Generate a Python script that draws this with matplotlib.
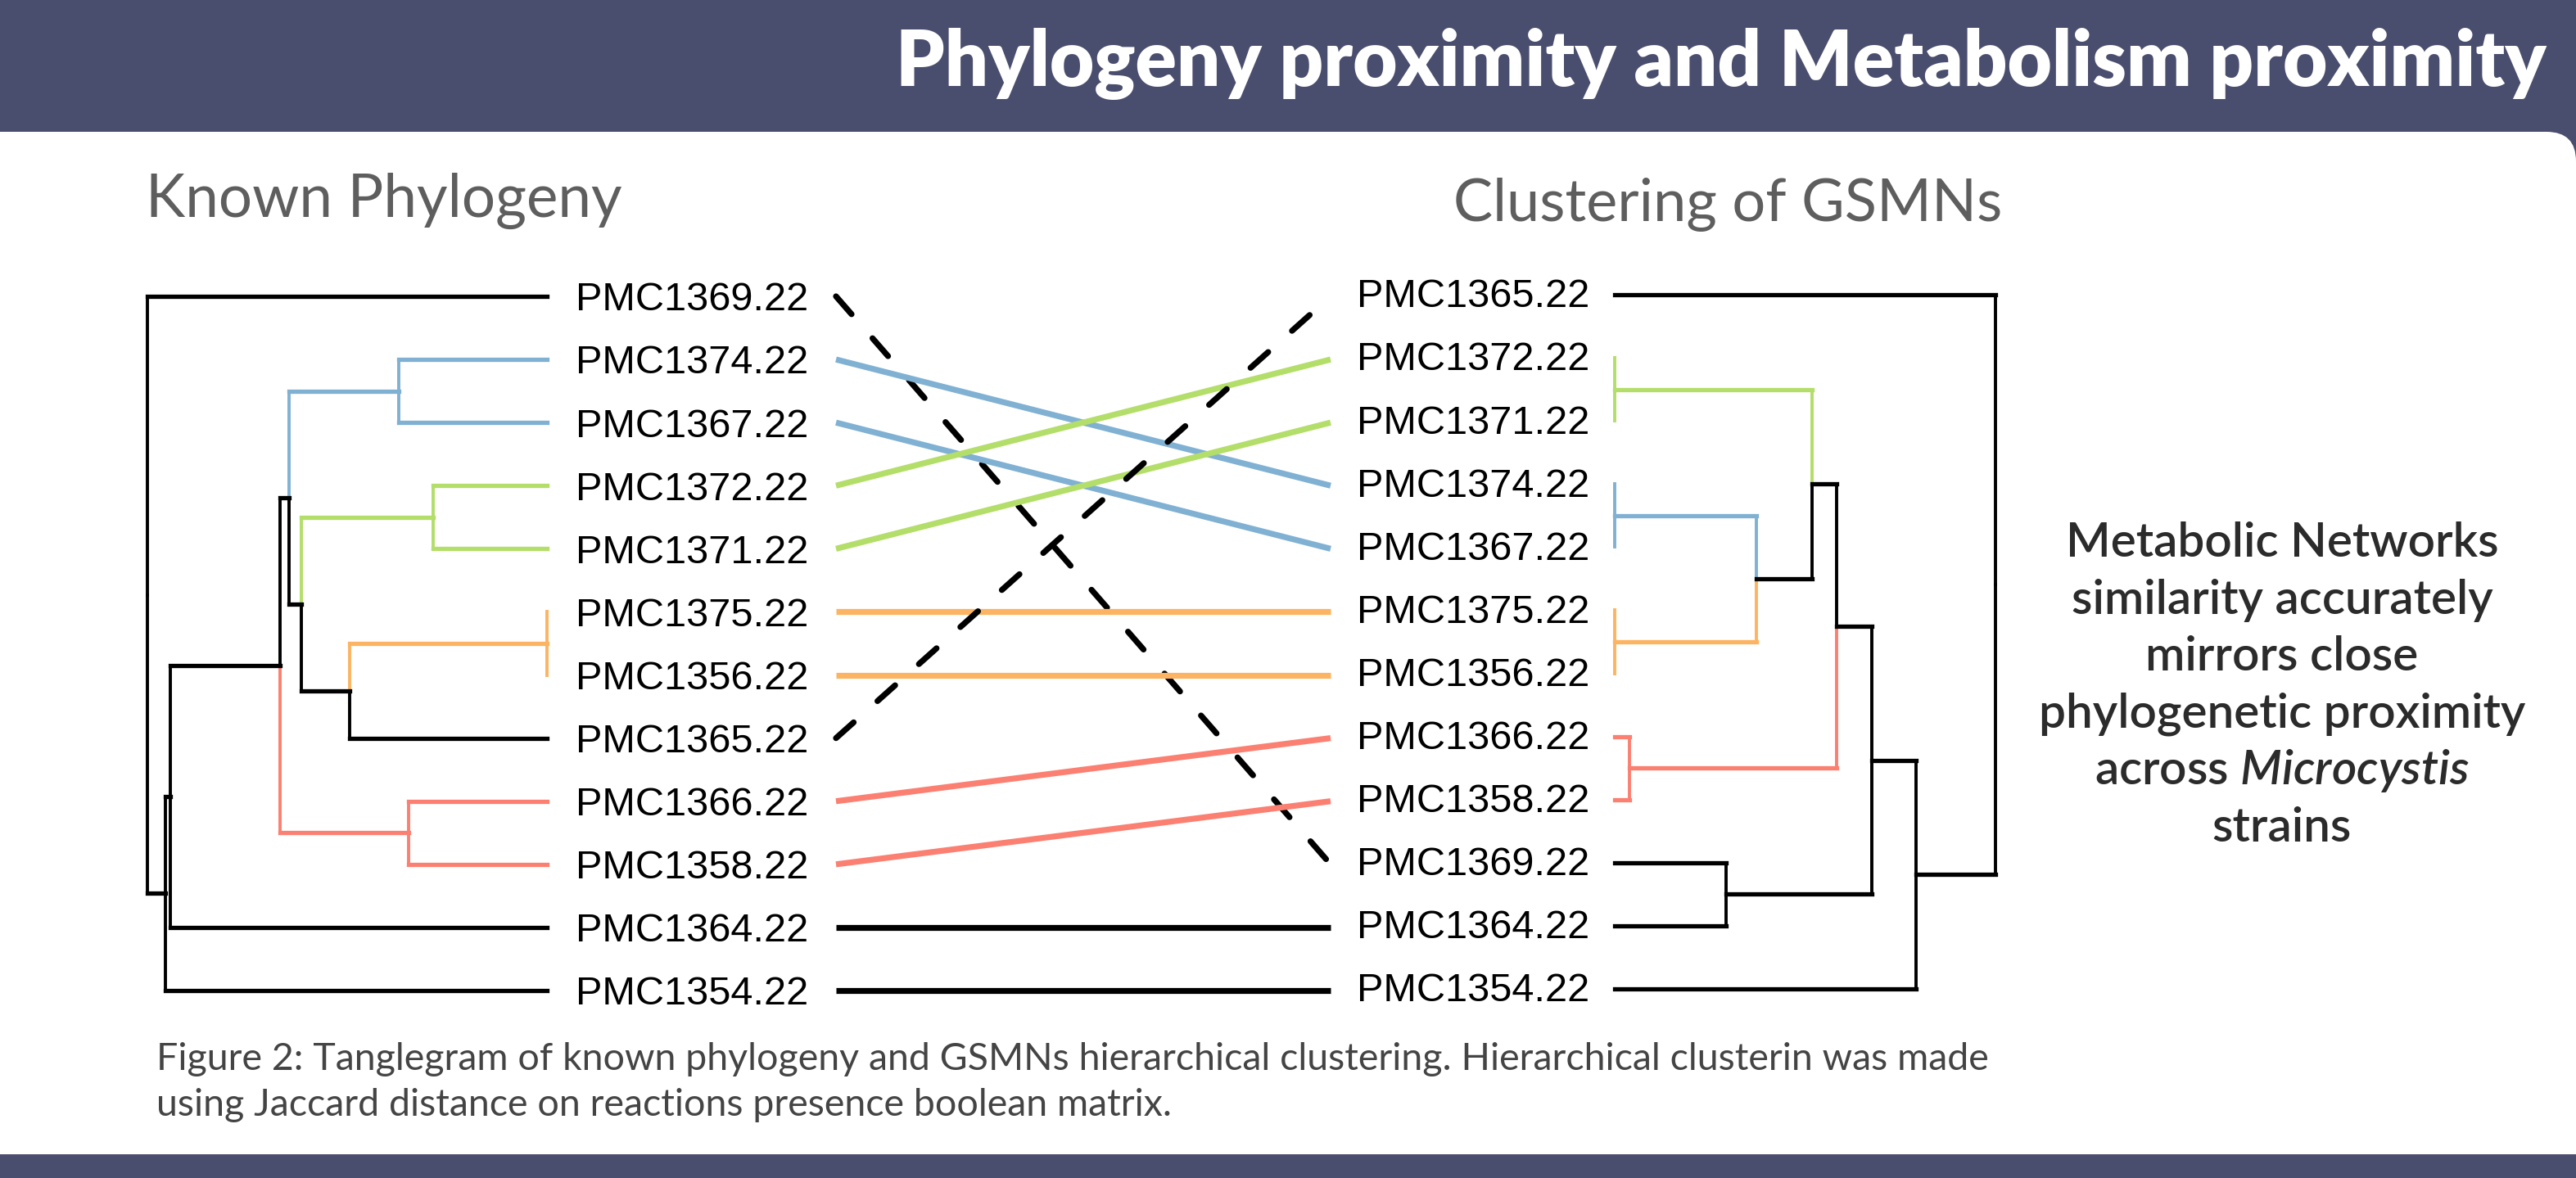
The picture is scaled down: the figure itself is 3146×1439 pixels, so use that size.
import matplotlib
matplotlib.use("Agg")
from matplotlib import pyplot as plt
from matplotlib import transforms
from matplotlib.path import Path
from matplotlib.patches import PathPatch


W, H = 3146, 1439
DPI = 100

# leaves, top to bottom, as they are drawn in each tree
left_leaves = ["PMC1369.22", "PMC1374.22", "PMC1367.22", "PMC1372.22", "PMC1371.22", "PMC1375.22",
               "PMC1356.22", "PMC1365.22", "PMC1366.22", "PMC1358.22", "PMC1364.22", "PMC1354.22"]
right_leaves = ["PMC1365.22", "PMC1372.22", "PMC1371.22", "PMC1374.22", "PMC1367.22", "PMC1375.22",
                "PMC1356.22", "PMC1366.22", "PMC1358.22", "PMC1369.22", "PMC1364.22", "PMC1354.22"]

# merges: (child a, child b, height); ids < 12 are leaves, 12+k is the k-th merge
left_merges = [(5, 6, 0.0), (3, 4, 0.285), (8, 9, 0.346), (1, 2, 0.371), (12, 7, 0.494),
               (13, 16, 0.615), (15, 17, 0.645), (18, 14, 0.668), (19, 10, 0.943),
               (20, 11, 0.955), (0, 21, 1.0)]
right_merges = [(1, 2, 0.0), (3, 4, 0.0), (5, 6, 0.0), (7, 8, 0.039), (9, 10, 0.292),
                (13, 14, 0.372), (12, 17, 0.518), (18, 15, 0.583), (19, 16, 0.675),
                (20, 11, 0.791), (0, 21, 1.0)]

cluster_colors = {
    "PMC1374.22": "#80B1D3", "PMC1367.22": "#80B1D3",
    "PMC1372.22": "#B3DE69", "PMC1371.22": "#B3DE69",
    "PMC1375.22": "#FDB462", "PMC1356.22": "#FDB462",
    "PMC1366.22": "#FB8072", "PMC1358.22": "#FB8072",
}
dashed_links = ["PMC1369.22", "PMC1365.22"]

title = "Phylogeny proximity and Metabolism proximity"
left_title = "Known Phylogeny"
right_title = "Clustering of GSMNs"
side_lines = ["Metabolic Networks", "similarity accurately", "mirrors close",
              "phylogenetic proximity", r"across $\mathit{Microcystis}$", "strains"]
caption = ["Figure 2: Tanglegram of known phylogeny and GSMNs hierarchical clustering. "
           "Hierarchical clusterin was made",
           "using Jaccard distance on reactions presence boolean matrix."]

BAND = "#4a4e6e"

plt.rcParams["font.family"] = ["Lato", "DejaVu Sans"]
plt.rcParams["mathtext.fontset"] = "custom"
plt.rcParams["mathtext.it"] = "Lato:italic:semibold"
plt.rcParams["mathtext.rm"] = "Lato:semibold"


def px_rect(x0, y0, x1, y1):
    return [x0 / W, 1 - y1 / H, (x1 - x0) / W, (y1 - y0) / H]


def fit_width(txt, target):
    r = fig.canvas.get_renderer()
    w = txt.get_window_extent(r).width
    txt.set_fontsize(txt.get_fontsize() * target / w)
    return txt.get_fontsize()


def draw_tree(ax, leaves, merges):
    n = len(leaves)
    ys = {i: float(i) for i in range(n)}
    hs = {i: 0.0 for i in range(n)}
    cols = {i: cluster_colors.get(name) for i, name in enumerate(leaves)}
    for k, (a, b, h) in enumerate(merges):
        node = n + k
        ys[node] = (ys[a] + ys[b]) / 2
        hs[node] = h
        cols[node] = cols[a] if cols[a] == cols[b] else None
        for c in (a, b):
            col = cols[c] or "black"
            ax.plot([hs[c], h], [ys[c], ys[c]], color=col, lw=3.8,
                    solid_capstyle="projecting", clip_on=False)
            ax.plot([h, h], [ys[c], ys[node]], color=col, lw=2.8,
                    solid_capstyle="projecting", clip_on=False)


fig = plt.figure(figsize=(W / DPI, H / DPI), dpi=DPI, facecolor=BAND)

# white card with rounded top-right corner
bg = fig.add_axes([0, 0, 1, 1])
bg.set_xlim(0, W)
bg.set_ylim(H, 0)
bg.axis("off")
r = 36
verts = [(0, 161), (W - r, 161), (W, 161), (W, 161 + r), (W, 1410), (0, 1410), (0, 161)]
codes = [Path.MOVETO, Path.LINETO, Path.CURVE3, Path.CURVE3, Path.LINETO, Path.LINETO, Path.CLOSEPOLY]
bg.add_patch(PathPatch(Path(verts, codes), facecolor="white", edgecolor="none"))

# trees
n = len(left_leaves)
axL = fig.add_axes(px_rect(180, 362, 668, 1210))
axL.set_xlim(1.0, 0.0)
axL.set_ylim(n - 1, 0)
axL.axis("off")
draw_tree(axL, left_leaves, left_merges)

axR = fig.add_axes(px_rect(1972, 360, 2437, 1208))
axR.set_xlim(0.0, 1.0)
axR.set_ylim(n - 1, 0)
axR.axis("off")
draw_tree(axR, right_leaves, right_merges)

label_kw = dict(fontsize=35, family=["Liberation Sans", "DejaVu Sans"], va="baseline", color="black")
cap_half = -0.716 * 35 / 2
tL = transforms.offset_copy(axL.transData, fig, x=35 * 0.72, y=cap_half, units="points")
for i, name in enumerate(left_leaves):
    axL.text(0, i, name, transform=tL, ha="left", **label_kw)
tR = transforms.offset_copy(axR.transData, fig, x=-315 * 0.72, y=cap_half + 1.5, units="points")
for i, name in enumerate(right_leaves):
    axR.text(0, i, name, transform=tR, ha="left", **label_kw)

# links between the two trees
axM = fig.add_axes(px_rect(1021, 362, 1625, 1210))
axM.set_xlim(0, 1)
axM.set_ylim(n - 1, 0)
axM.axis("off")
for i, name in enumerate(left_leaves):
    j = right_leaves.index(name)
    if name in dashed_links:
        axM.plot([0, 1], [i, j], color="black", lw=5.2, ls=(0, (4.0, 5.4)),
                 dash_capstyle="round", clip_on=False)
    else:
        axM.plot([0, 1], [i, j], color=cluster_colors.get(name, "black"), lw=5.2,
                 solid_capstyle="butt", clip_on=False)

# texts
t = bg.text(3110, 105, title, ha="right", va="baseline", color="white",
            fontsize=68, fontweight="heavy")
fit_width(t, 2017)

t = bg.text(178, 265, left_title, ha="left", va="baseline", color="#5e5e5e",
            fontsize=55, fontweight="normal")
fit_width(t, 582)
t = bg.text(1775, 270, right_title, ha="left", va="baseline", color="#5e5e5e",
            fontsize=55, fontweight="normal")
fit_width(t, 671)

side = []
for k, line in enumerate(side_lines):
    side.append(bg.text(2787, 680 + 69.6 * k, line, ha="center", va="baseline",
                        color="#2b2b2b", fontsize=39, fontweight="semibold"))
size = fit_width(side[3], 593)
for s in side:
    s.set_fontsize(size)

cap = []
for k, line in enumerate(caption):
    cap.append(bg.text(191, 1307 + 56 * k, line, ha="left", va="baseline",
                       color="#444444", fontsize=35, fontweight="normal"))
size = fit_width(cap[0], 2237)
cap[1].set_fontsize(size)

plt.savefig("out.png", dpi=DPI, facecolor=BAND)
plt.close()
